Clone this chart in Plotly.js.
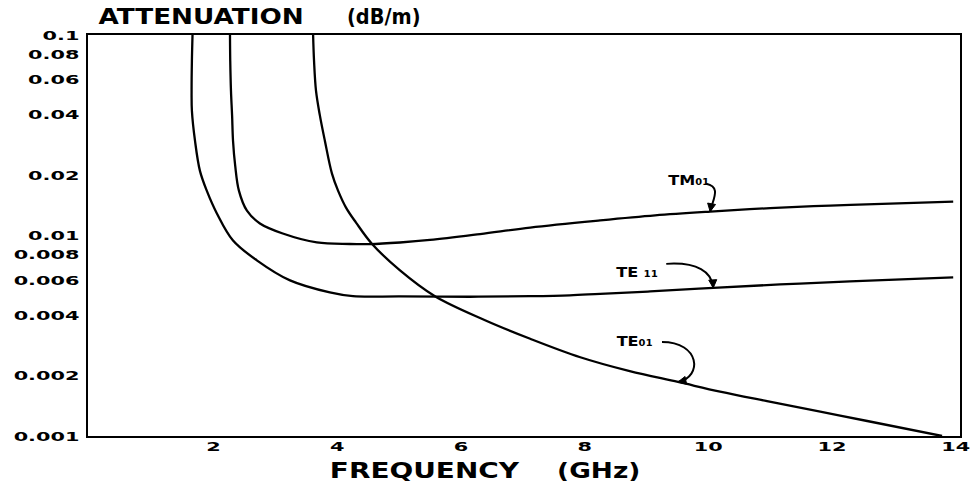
<!DOCTYPE html>
<html>
<head>
<meta charset="utf-8">
<script src="https://cdn.plot.ly/plotly-3.0.1.min.js"></script>
<style>
html,body{margin:0;padding:0;background:#fff;}
#chart{width:971px;height:490px;}
</style>
</head>
<body>
<div id="chart"></div>
<script>
// ---- data ----
const freqTE11 = [1.66,1.65,1.645,1.65,1.70,1.78,1.89,2.056,2.315,2.70,3.237,3.88,4.255,5.015,6.15,7.12,7.76,8.25,9.06,10.08,11.16,12.29,13.96];
const attTE11  = [0.1,0.0743,0.0526,0.0419,0.0297,0.0210,0.01674,0.01285,0.00944,0.00752,0.00597,0.0052,0.00498,0.00497,0.00495,0.00498,0.00503,0.00512,0.00526,0.00548,0.0057,0.0059,0.00618];

const freqTM01 = [2.266,2.27,2.282,2.30,2.315,2.35,2.41,2.54,2.75,3.12,3.67,4.207,4.53,5.015,5.50,6.31,7.12,8.25,9.14,10.03,11.0,11.97,12.94,13.96];
const attTM01  = [0.1,0.0743,0.0526,0.0396,0.0297,0.0223,0.01674,0.0133,0.01148,0.01023,0.00923,0.00907,0.00906,0.00923,0.0095,0.01017,0.01096,0.01189,0.01259,0.01315,0.0137,0.0141,0.01443,0.01476];

const freqTE01 = [3.61,3.625,3.657,3.72,3.80,3.915,4.013,4.142,4.304,4.56,5.015,5.58,6.39,7.12,7.93,8.73,9.51,10.19,10.95,11.81,12.57,13.78];
const attTE01  = [0.1,0.0743,0.0526,0.0396,0.0297,0.02035,0.01674,0.01378,0.0116,0.0091,0.0067,0.00498,0.00378,0.003055,0.00247,0.002106,0.00186,0.001665,0.001493,0.001324,0.001188,0.001];

const xTickVals = [2,4,6,8,10,12,14];
const xTickText = ['2','4','6','8','10','12','14'];
const yTickVals = [0.001,0.002,0.004,0.006,0.008,0.01,0.02,0.04,0.06,0.08,0.1];
const yTickText = ['0.001','0.002','0.004','0.006','0.008','0.01','0.02','0.04','0.06','0.08','0.1'];

const modeLabels = ['TM\u2080\u2081','TE \u2081\u2081','TE\u2080\u2081'];
// point on each curve where the leader arrow lands [freq, attenuation]
const arrowTips = [[10.03,0.01315],[10.08,0.00548],[9.51,0.00186]];

// ---- layout geometry (pixels) ----
const PW = 872, PH = 401, ML = 88, MT = 35, MB = 54, MR = 11;
const XR = [-0.03, 14.07];
const YR = [-3, -1];
const X = f => (f - XR[0]) / (XR[1] - XR[0]);
const Y = a => (Math.log10(a) - YR[0]) / (YR[1] - YR[0]);
const PX = px => (px - ML) / PW;

// leader curves as pixel offsets from the tip (y down): start, c1, c2, tip
const leaderOff = [
  [[-4,-28],[12,-25],[2,-11],[0,0]],
  [[-47,-24],[-16,-26],[-1,-16],[0,0]],
  [[-16,-40],[22,-40],[25,-5],[0,0]]
];
const labelOff = [[-21,-32],[-76,-16],[-43,-41]];

const FONT = 'DejaVu Sans, Liberation Sans, Arial, sans-serif';
const lineStyle = {color:'#000', width:2.3, shape:'spline', smoothing:1.0};

const traces = [
  {x:freqTE11, y:attTE11, mode:'lines', line:lineStyle, name:'TE11', hoverinfo:'skip'},
  {x:freqTM01, y:attTM01, mode:'lines', line:lineStyle, name:'TM01', hoverinfo:'skip'},
  {x:freqTE01, y:attTE01, mode:'lines', line:lineStyle, name:'TE01', hoverinfo:'skip'}
];

const shapes = [];
const annotations = [];
const stretchList = [];
arrowTips.forEach((tip,i) => {
  const tx = X(tip[0]), ty = Y(tip[1]);
  const P = o => [tx + o[0]/PW, ty - o[1]/PH];
  const pts = leaderOff[i].map(P);
  shapes.push({type:'path', xref:'paper', yref:'paper',
    path:`M ${pts[0][0]},${pts[0][1]} C ${pts[1][0]},${pts[1][1]} ${pts[2][0]},${pts[2][1]} ${pts[3][0]},${pts[3][1]}`,
    line:{color:'#000', width:2}});
  // arrowhead
  const c2 = leaderOff[i][2];
  let dx = -c2[0], dy = -c2[1];
  const L = Math.hypot(dx,dy); dx/=L; dy/=L;
  const nx = -dy, ny = dx;
  const hl = 8, hw = 4;
  const b1 = P([-dx*hl + nx*hw, -dy*hl + ny*hw]);
  const b2 = P([-dx*hl - nx*hw, -dy*hl - ny*hw]);
  shapes.push({type:'path', xref:'paper', yref:'paper',
    path:`M ${tx},${ty} L ${b1[0]},${b1[1]} L ${b2[0]},${b2[1]} Z`,
    fillcolor:'#000', line:{color:'#000', width:1}});
  annotations.push({xref:'x', yref:'y', x:tip[0], y:Math.log10(tip[1]),
    xshift:labelOff[i][0], yshift:-labelOff[i][1],
    text:'<b>'+modeLabels[i]+'</b>', showarrow:false, font:{family:FONT, size:14, color:'#000'},
    xanchor:'center', yanchor:'middle'});
  stretchList.push(1.15);
});
// titles
function addTitle(txt, px, py, size, s){
  annotations.push({xref:'paper', yref:'paper', x:PX(px), y:(MT+PH-py)/PH, text:'<b>'+txt+'</b>',
    showarrow:false, font:{family:FONT, size:size, color:'#000'}, xanchor:'center', yanchor:'middle'});
  stretchList.push(s);
}
addTitle('ATTENUATION', 201, 17, 21, 1.25);
addTitle('(dB/m)', 384, 17, 22, 0.88);
addTitle('FREQUENCY', 424.5, 470, 22, 1.27);
addTitle('(GHz)', 598.5, 470, 22, 1.2);

const layout = {
  width:971, height:490,
  margin:{l:ML, r:MR, t:MT, b:MB},
  paper_bgcolor:'#fff', plot_bgcolor:'#fff',
  showlegend:false,
  xaxis:{range:XR, showgrid:false, zeroline:false, showline:true, mirror:true,
    linecolor:'#000', linewidth:2, ticks:'', tickvals:xTickVals, ticktext:xTickText,
    tickfont:{family:FONT, size:13, color:'#000', weight:'bold'}, ticklabelstandoff:-3},
  yaxis:{type:'log', range:YR, showgrid:false, zeroline:false, showline:true, mirror:true,
    linecolor:'#000', linewidth:2, ticks:'', tickvals:yTickVals, ticktext:yTickText,
    tickfont:{family:FONT, size:13, color:'#000', weight:'bold'}, ticklabelstandoff:4},
  shapes:shapes,
  annotations:annotations
};

function stretchEl(t, s, anchor){
  const b = t.getBBox();
  const cx = anchor==='end' ? b.x+b.width : (anchor==='start' ? b.x : b.x+b.width/2);
  const tr = t.getAttribute('transform') || '';
  t.setAttribute('transform', tr+` translate(${cx},0) scale(${s},1) translate(${-cx},0)`);
}

Plotly.newPlot('chart', traces, layout, {displayModeBar:false, staticPlot:true}).then(() => {
  document.querySelectorAll('.ytick text').forEach(t => stretchEl(t, 1.6, 'end'));
  document.querySelectorAll('.xtick text').forEach(t => stretchEl(t, 1.6, 'middle'));
  document.querySelectorAll('g.annotation').forEach(g => {
    const i = +g.getAttribute('data-index');
    const t = g.querySelector('.annotation-text');
    if (t && stretchList[i]) stretchEl(t, stretchList[i], 'middle');
  });
});
</script>
</body>
</html>
